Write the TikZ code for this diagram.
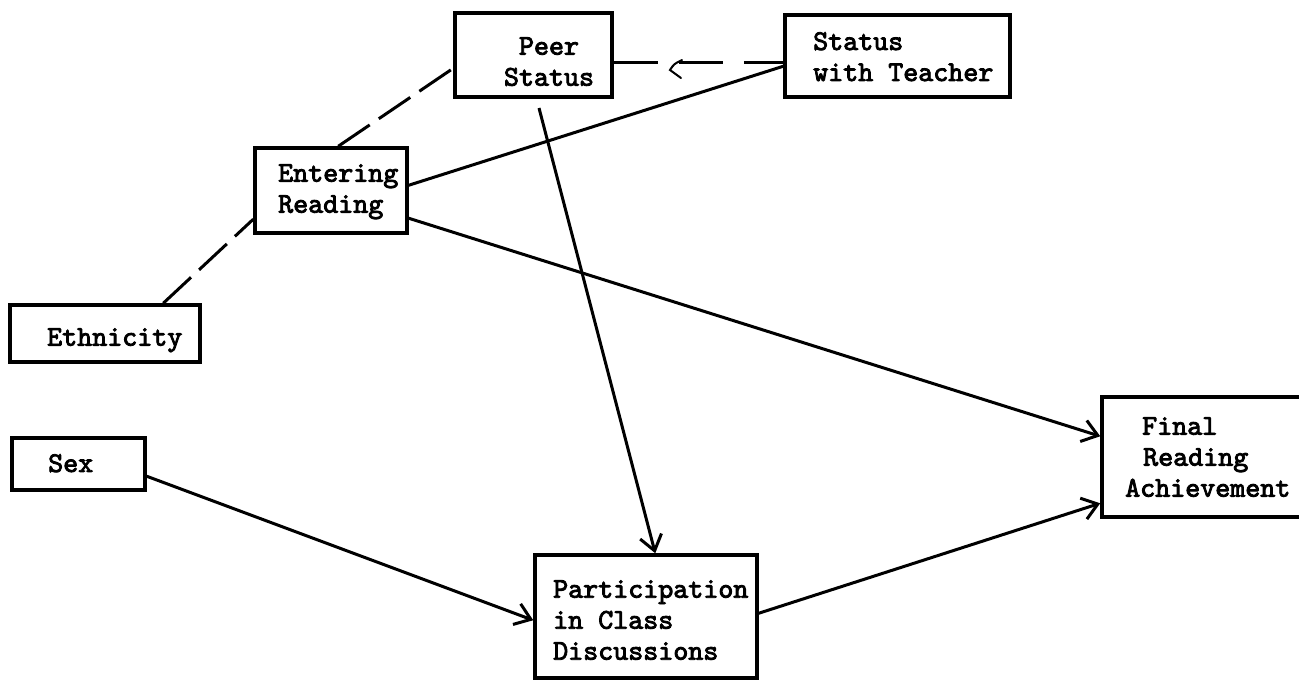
\documentclass[tikz,border=0pt]{standalone}
\usepackage{fontspec}
\newfontfamily\tw{lmmono10-regular.otf}[FakeBold=3]
\usetikzlibrary{arrows.meta,fit,calc}
\begin{document}
\begin{tikzpicture}[x=1pt,y=-1pt,
  box/.style={draw, line width=3.5pt, inner sep=0pt},
  txt/.style={inner sep=0pt, font=\tw\fontsize{28.6}{31}\selectfont, align=left, anchor=north west},
  conn/.style={line width=3pt},
  arr/.style={conn, -{Straight Barb[length=15pt,width=22pt,line width=3pt]}},
  dsh/.style={conn, dash pattern=on 38pt off 11pt},
  hdsh/.style={conn, dash pattern=on 44pt off 21pt}]
\useasboundingbox (0,0) rectangle (1299,680);
% boxes
\node[box, fit={(455,13) (612,97)}] (peer) {};
\node[box, fit={(785,15) (1010,97)}] (tea) {};
\node[box, fit={(255,148) (407,233)}] (ent) {};
\node[box, fit={(10,305) (200,362)}] (eth) {};
\node[box, fit={(12,438) (145,490)}] (sex) {};
\node[box, fit={(535,555) (757,678)}] (part) {};
\node[box, fit={(1102,397) (1302,517)}] (fin) {};
% texts
\node[txt, anchor=north, align=center] (peert) at (549,37) {Peer\\Status};
\node[txt] (teat) at (813,32) {Status\\with Teacher};
\node[txt] (entt) at (278,164) {Entering\\Reading};
\node[txt] (etht) at (47,328) {Ethnicity};
\node[txt] (sext) at (48,454) {Sex};
\node[txt] (partt) at (553,580) {Participation\\in Class\\Discussions};
\node[txt] (fint) at (1125,417) {\hspace*{17pt}Final\\\hspace*{18pt}Reading\\Achievement};
% dashed connectors
\draw[dsh] ($(ent.north west)+(85,0)$) -- ($(peer.north west)+(0,57)$);
\draw[dsh] ($(eth.north west)+(155,0)$) -- ($(ent.north west)+(0,73)$);
\draw[hdsh] ($(peer.north east)+(0,51)$) -- ($(tea.north west)+(0,49)$);
\draw[line width=2pt, line cap=round] (682,60) .. controls (674,64) .. (670,70) -- (681,78);
% solid connectors
\draw[conn] ($(ent.north east)+(0,39)$) -- ($(tea.north west)+(0,53)$);
\draw[arr] ($(ent.north east)+(0,72)$) -- ($(fin.north west)+(0,41)$);
\coordinate (ps) at (539,108);
\draw[arr] (ps) -- ($(part.north west)+(122,0)$);
\draw[arr] ($(sex.north east)+(0,40)$) -- ($(part.north west)+(0,67)$);
\draw[arr] ($(part.north east)+(0,60)$) -- ($(fin.north west)+(0,108)$);
\end{tikzpicture}
\end{document}
